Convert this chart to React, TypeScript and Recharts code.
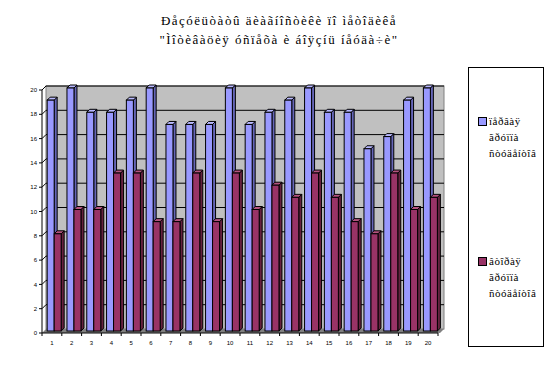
import React from "react";
import { BarChart, Bar, XAxis, YAxis, ReferenceArea } from "recharts";

const categories = ["1","2","3","4","5","6","7","8","9","10","11","12","13","14","15","16","17","18","19","20"];
const group1 = [19,20,18,18,19,20,17,17,17,20,17,18,19,20,18,18,15,16,19,20];
const group2 = [8,10,10,13,13,9,9,13,9,13,10,12,11,13,11,9,8,13,10,11];
const yTicks = [0,2,4,6,8,10,12,14,16,18,20];
const series1Name = "ïåðâàÿ ãðóïïà ñòóäåíòîâ";
const series2Name = "âòîðàÿ ãðóïïà ñòóäåíòîâ";
const titleLine1 = "Ðåçóëüòàòû äèàãíîñòèêè ïî ìåòîäèêå";
const titleLine2 = "\"Ìîòèâàöèÿ óñïåõà è áîÿçíü íåóäà÷è\"";

const data = categories.map((c, i) => ({ cat: c, g1: group1[i], g2: group2[i] }));
const yMax = yTicks[yTicks.length - 1];

const D = 4;
const BLUE = "#9999FF";
const RED = "#993366";

const make3D = (front: string, side: string, top: string) => (props: any) => {
  const { x, y, width, height } = props;
  if (width == null || height == null) return <g />;
  const fx = x + 2;
  const fy = y - 2;
  const w = width;
  const h = height;
  const d = 3;
  return (
    <g>
      <polygon points={`${fx + w},${fy} ${fx + w + d},${fy - d} ${fx + w + d},${fy + h - d} ${fx + w},${fy + h}`} fill={side} stroke="#000" strokeWidth={1} />
      <polygon points={`${fx},${fy} ${fx + d},${fy - d} ${fx + w + d},${fy - d} ${fx + w},${fy}`} fill={top} stroke="#000" strokeWidth={1} />
      <rect x={fx} y={fy} width={w} height={h} fill={front} stroke="#000" strokeWidth={1} />
    </g>
  );
};

const BlueBar = make3D(BLUE, "#6666B8", "#B8B8FF");
const RedBar = make3D(RED, "#66223F", "#B5537F");

const WallShape = (props: any) => {
  const { x, y, width, height } = props;
  return (
    <g>
      <rect x={x + D} y={y - D} width={width + 2} height={height} fill="#C0C0C0" stroke="#808080" strokeWidth={1} />
      <polygon points={`${x},${y + height} ${x + D},${y + height - D} ${x + width + D + 2},${y + height - D} ${x + width + 2},${y + height}`} fill="#808080" />
      {yTicks.slice(1).map((t) => {
        const ly = y + height * (1 - t / yMax);
        return (
          <g key={t}>
            <line x1={x} y1={ly} x2={x + D} y2={ly - D} stroke="#000" strokeWidth={1} />
            <line x1={x + D} y1={ly - D} x2={x + width + D + 2} y2={ly - D} stroke="#000" strokeWidth={1} />
          </g>
        );
      })}
    </g>
  );
};

const XTick = (props: any) => {
  const { x, y, payload, width, visibleTicksCount, index } = props;
  const half = width / visibleTicksCount / 2;
  const axisY = y - 6;
  return (
    <g>
      <line x1={x - half} y1={axisY} x2={x - half} y2={axisY + 3} stroke="#000" />
      {index === visibleTicksCount - 1 && (
        <line x1={x + half} y1={axisY} x2={x + half} y2={axisY + 3} stroke="#000" />
      )}
      <text x={x} y={y + 6} textAnchor="middle" fontSize={6} fontFamily="Liberation Sans, Arial" fill="#000">
        {payload.value}
      </text>
    </g>
  );
};

const legendItems = [
  { name: series1Name, color: BLUE, top: 45 },
  { name: series2Name, color: RED, top: 185 },
];

export default function App() {
  return (
    <div style={{ position: "absolute", left: 0, top: 0, width: 555, height: 367, background: "#fff" }}>
      <BarChart
        width={555}
        height={367}
        data={data}
        margin={{ top: 90, right: 117, bottom: 22, left: 0 }}
        barCategoryGap="16%"
        barGap={0}
      >
        <ReferenceArea y1={0} y2={yMax} shape={<WallShape />} ifOverflow="visible" />
        <XAxis dataKey="cat" height={12} interval={0} tickLine={false} axisLine={{ stroke: "#000" }} tick={<XTick />} tickSize={3} tickMargin={3} />
        <YAxis width={42} domain={[0, yMax]} ticks={yTicks} interval={0} tickSize={3} tickMargin={2} axisLine={{ stroke: "#000" }} tickLine={{ stroke: "#000" }} tick={{ fontSize: 6, fill: "#000", fontFamily: "Liberation Sans, Arial" }} />
        <Bar dataKey="g1" name={series1Name} fill={BLUE} shape={<BlueBar />} isAnimationActive={false} />
        <Bar dataKey="g2" name={series2Name} fill={RED} shape={<RedBar />} isAnimationActive={false} />
      </BarChart>
      <div style={{ position: "absolute", left: 0, top: 11, width: 558, textAlign: "center", fontFamily: "Liberation Serif, Times New Roman, serif", fontSize: 13, lineHeight: "19px", letterSpacing: 1.5, color: "#000" }}>
        <div>{titleLine1}</div>
        <div>{titleLine2}</div>
      </div>
      <div style={{ position: "absolute", left: 468, top: 67, width: 76, height: 280, border: "1px solid #000", boxSizing: "border-box", fontFamily: "Liberation Serif, Times New Roman, serif", fontSize: 11, letterSpacing: 0.5, color: "#000" }}>
        {legendItems.map((p, i) => (
          <div key={i} style={{ position: "absolute", left: 9, top: p.top, lineHeight: "16px" }}>
            {p.name.split(" ").map((word, j) => (
              <div key={j} style={{ display: "flex", alignItems: "center", whiteSpace: "nowrap" }}>
                {j === 0 ? (
                  <span style={{ width: 7, height: 7, border: "1px solid #000", background: p.color, display: "inline-block", marginRight: 2 }} />
                ) : (
                  <span style={{ width: 9, height: 7, display: "inline-block", marginRight: 2 }} />
                )}
                <span>{word}</span>
              </div>
            ))}
          </div>
        ))}
      </div>
    </div>
  );
}
